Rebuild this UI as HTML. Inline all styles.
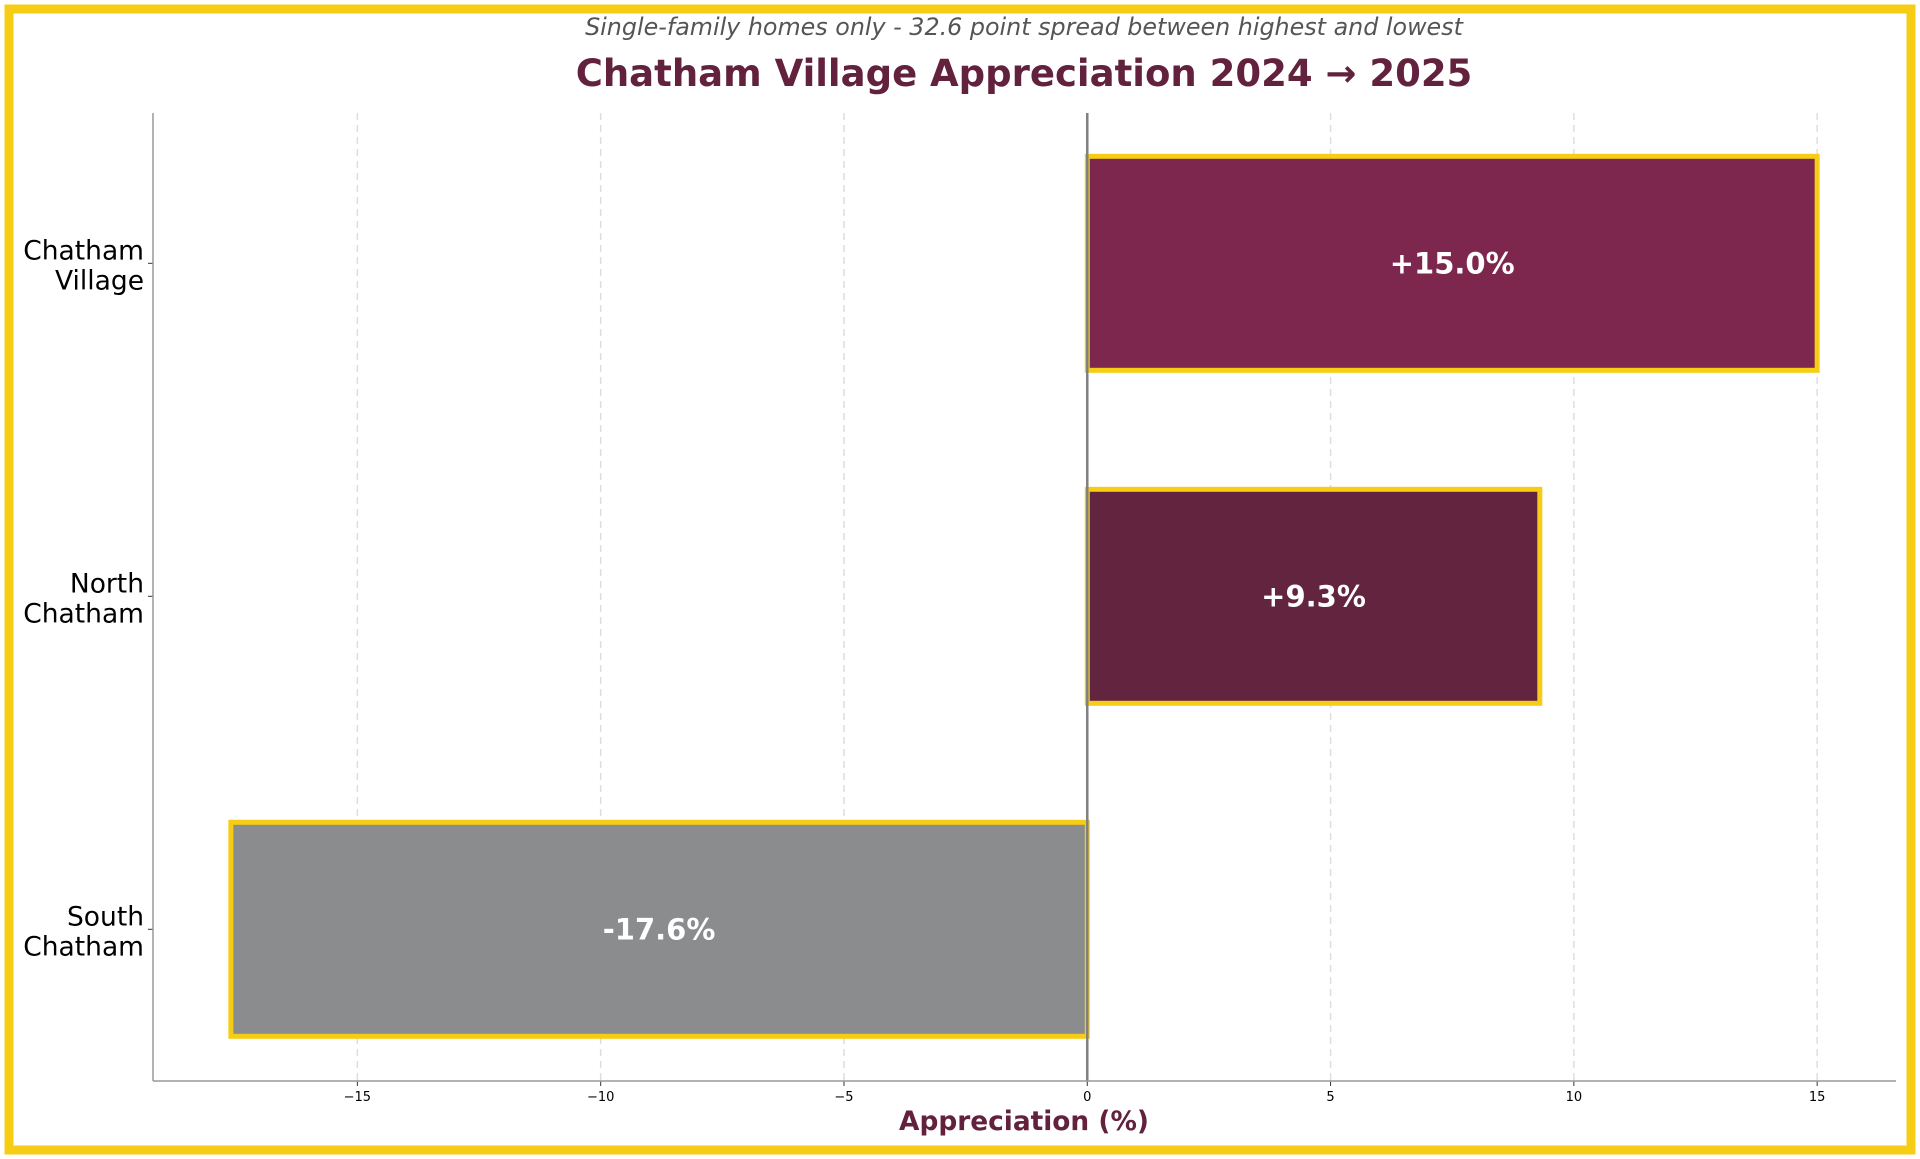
<!DOCTYPE html>
<html><head><meta charset="utf-8"><style>
html,body{margin:0;padding:0;background:#fff;}
svg{display:block;font-family:"DejaVu Sans","Liberation Sans",sans-serif;}
</style></head><body>
<svg id="chart" width="1920" height="1159">
<rect x="9" y="9" width="1902" height="1141" fill="none" stroke="#f6cd14" stroke-width="9"/>
<text x="1024" y="35" text-anchor="middle" font-size="23.8" font-style="italic" fill="#555">Single-family homes only - 32.6 point spread between highest and lowest</text>
<text x="1024" y="86" text-anchor="middle" font-size="37" font-weight="bold" fill="#62213d">Chatham Village Appreciation 2024 → 2025</text>
<g id="grid"></g>
<g id="bars"></g>
<g id="axes"></g>
<text x="1024" y="1130" text-anchor="middle" font-size="26.4" font-weight="bold" fill="#62213d">Appreciation (%)</text>
</svg>
<script>
const categories = ["Chatham\nVillage", "North\nChatham", "South\nChatham"];
const values = [15.0, 9.3, -17.6];
const barColors = ["#7d274f", "#62243e", "#8a8c8e"];
const ticks = [-15, -10, -5, 0, 5, 10, 15];
const tickLabels = ["\u221215", "\u221210", "\u22125", "0", "5", "10", "15"];

const L=153, R=1896, T=113, B=1081, xmin=-19.2, xmax=16.62;
const x = v => L + (v - xmin) / (xmax - xmin) * (R - L);
const yc = i => 596.3 + (i - (categories.length - 1) / 2) * 333;
const bh = 214;
const NS = "http://www.w3.org/2000/svg";
function mk(tag, attrs, parent, txt){const e=document.createElementNS(NS,tag);for(const k in attrs)e.setAttribute(k,attrs[k]);if(txt!==undefined)e.textContent=txt;parent.appendChild(e);return e;}
const grid=document.getElementById('grid'), bars=document.getElementById('bars'), axes=document.getElementById('axes');

ticks.forEach((t,i)=>{
  if(t!==0){const g=mk('line',{x1:x(t),x2:x(t),y1:T,y2:B,stroke:'#ddd','stroke-width':1.5,'stroke-dasharray':'7,5'},grid);
  
  }
  const tk=mk('line',{x1:x(t),x2:x(t),y1:B,y2:B+5,stroke:'#333','stroke-width':1},axes);
  
  
  const lb=mk('text',{x:x(t),y:B+20,'text-anchor':'middle','font-size':13,fill:'#000'},axes,tickLabels[i]);
  
  
});

values.forEach((v,i)=>{
  const x0=Math.min(x(0),x(v)), w=Math.abs(x(v)-x(0));
  const r=mk('rect',{x:x0,y:yc(i)-bh/2,width:w,height:bh,fill:barColors[i],stroke:'#f6cd14','stroke-width':5},bars);
  
  
  const t=mk('text',{x:x0+w/2,y:yc(i)+10,'text-anchor':'middle','font-size':29,'font-weight':'bold',fill:'#fff'},bars,(v>0?'+':'')+v.toFixed(1)+'%');
  
  
  const parts=categories[i].split('\n');
  const cl=mk('text',{'text-anchor':'end','font-size':26.5,fill:'#000'},axes);
  
  
  parts.forEach((p,j)=>mk('tspan',{x:L-9,y:yc(i)-4+j*30},cl,p));
  const ct=mk('line',{x1:L-5,x2:L,y1:yc(i),y2:yc(i),stroke:'#333','stroke-width':1},axes);
  
  
});

const zl=mk('line',{x1:x(0),x2:x(0),y1:T,y2:B,stroke:'#808080','stroke-width':2.5},axes);


const la=mk('line',{x1:L,x2:L,y1:T,y2:B,stroke:'#999','stroke-width':1.5},axes);


const ba=mk('line',{x1:L,x2:R,y1:B,y2:B,stroke:'#999','stroke-width':1.5},axes);


</script>
</body></html>
